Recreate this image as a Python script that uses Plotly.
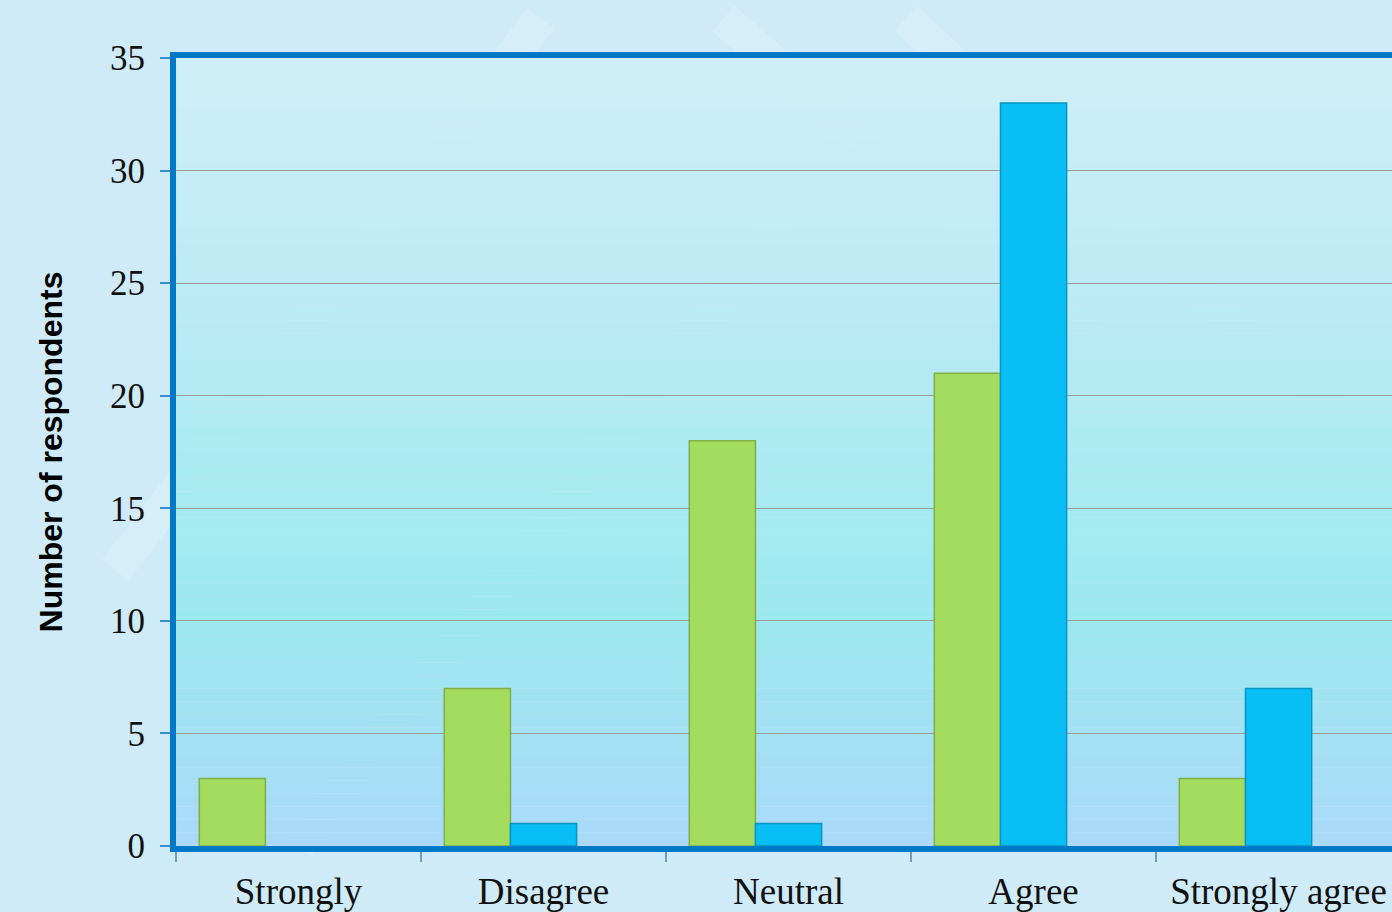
import plotly.graph_objects as go

categories = ["Strongly", "Disagree", "Neutral", "Agree", "Strongly agree"]
series_green = [3, 7, 18, 21, 3]
series_blue = [0, 1, 1, 33, 7]
series_third = [0, 0, 0, 0, 0]
y_ticks = [0, 5, 10, 15, 20, 25, 30, 35]

fig = go.Figure()
fig.add_trace(go.Bar(x=categories, y=series_green,
                     marker=dict(color="#A4DC60", line=dict(color="#7FAF45", width=[0 if v == 0 else 1.5 for v in series_green])),
                     showlegend=False))
fig.add_trace(go.Bar(x=categories, y=series_blue,
                     marker=dict(color="#08BEF4", line=dict(color="#0597C4", width=[0 if v == 0 else 1.5 for v in series_blue])),
                     showlegend=False))
fig.add_trace(go.Bar(x=categories, y=series_third, marker=dict(color="rgba(0,0,0,0)", line=dict(width=0)),
                     showlegend=False, hoverinfo="skip"))

# plot-area vertical gradient (decoration)
stops = [(0.0, (167, 216, 248)), (0.3, (152, 232, 238)), (0.65, (182, 234, 243)), (1.0, (208, 238, 247))]
def col(t):
    for i in range(len(stops) - 1):
        a, ca = stops[i]
        b, cb = stops[i + 1]
        if a <= t <= b:
            f = (t - a) / (b - a)
            return "rgb(%d,%d,%d)" % tuple(round(ca[k] + (cb[k] - ca[k]) * f) for k in range(3))
    return "rgb(%d,%d,%d)" % stops[-1][1]
shapes = []
# faint diagonal stripes in the background
for (x0, y0, x1, y1) in [(-0.05, 0.35, 0.3, 1.05), (0.1, 0.0, 0.55, 0.9), (0.45, 1.05, 0.75, 0.65), (0.6, 1.05, 0.95, 0.55)]:
    shapes.append(dict(type="line", xref="paper", yref="paper", x0=x0, y0=y0, x1=x1, y1=y1,
                       line=dict(color="rgba(255,255,255,0.18)", width=34), layer="below"))
n = 60
for i in range(n):
    shapes.append(dict(type="rect", xref="x domain", yref="y domain", x0=0, x1=1, y0=i / n, y1=(i + 1) / n,
                       fillcolor=col((i + 0.5) / n), line=dict(width=0), layer="below", opacity=0.93))

fig.update_layout(
    width=1392, height=912,
    margin=dict(l=176, r=0, t=58, b=66),
    paper_bgcolor="rgb(206,235,247)",
    plot_bgcolor="rgba(0,0,0,0)",
    barmode="group", bargap=0.19, bargroupgap=0,
    shapes=shapes,
    xaxis=dict(range=[-0.5, 4.463], showline=True, linecolor="#0078C8", linewidth=6, mirror=True,
               ticks="outside", tickson="boundaries", ticklen=10, tickcolor="#6E9CC0", tickwidth=1.5,
               ticklabelstandoff=8,
               tickfont=dict(family="Liberation Serif", size=37, color="#111"), showgrid=False),
    yaxis=dict(range=[0, 35], tickvals=y_ticks, showline=True, linecolor="#0078C8", linewidth=6,
               ticks="outside", ticklen=10, tickcolor="#3A8FD0", tickwidth=1.5, ticklabelstandoff=8,
               tickfont=dict(family="Liberation Serif", size=35, color="#111"),
               gridcolor="#9A9A9A", gridwidth=1, zeroline=False,
               title=dict(text="Number of respondents", font=dict(family="Liberation Sans", size=32, color="#000", weight="bold"), standoff=40)),
)
fig.write_html("out.html")
